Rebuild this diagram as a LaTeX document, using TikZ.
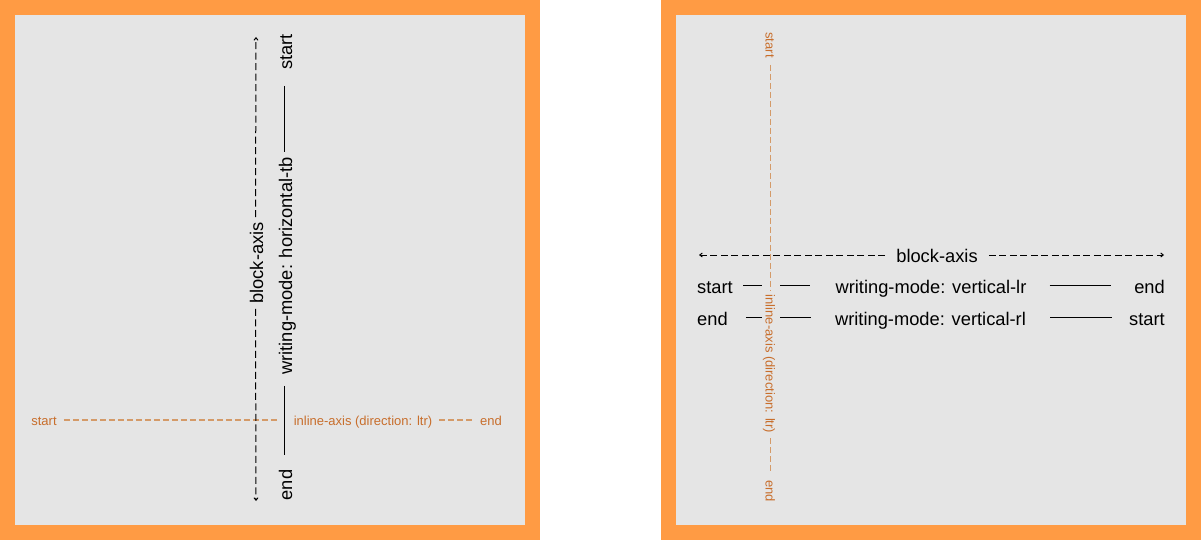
\documentclass[tikz,border=0pt]{standalone}
\usepackage{fontspec}
\setmainfont{Liberation Sans}
\usetikzlibrary{arrows.meta,positioning}
\definecolor{frameorange}{HTML}{FF9B44}
\definecolor{panelgray}{HTML}{E5E5E5}
\definecolor{axistext}{HTML}{C86E2C}
\definecolor{axisdash}{HTML}{D49A68}

\begin{document}
\begin{tikzpicture}[x=1pt,y=-1pt,
  lbl/.style={font=\fontsize{18.3}{18.3}\selectfont,inner sep=0pt,
    text height=15pt,text depth=0pt},
  olbl/.style={font=\fontsize{13}{13}\selectfont,text=axistext,inner sep=0pt,
    text height=10pt,text depth=0pt},
  blockdash/.style={black,line width=1pt,dash pattern=on 7pt off 3.5pt},
  inlinedash/.style={axisdash,line width=1.1pt,dash pattern=on 6pt off 3pt},
  rule/.style={black,line width=1.1pt},
  tip/.style={-{Straight Barb[length=2.5pt,width=4pt]}}]
  \useasboundingbox(0,0)rectangle(1201,540);
  % frames
  \fill[frameorange](0,0)rectangle(540,540);
  \fill[panelgray](15,15)rectangle(525,525);
  \fill[frameorange](661,0)rectangle(1201,540);
  \fill[panelgray](676,15)rectangle(1186,525);
  % left panel: horizontal-tb
  \node[olbl](istartL)at(44,420){start};
  \node[olbl](inlineL)at(363,420){inline-axis (direction: ltr)};
  \node[olbl](iendL)at(491,420){end};
  \draw[inlinedash,shorten <=7pt,shorten >=14pt](istartL.east)--(inlineL.west);
  \draw[inlinedash,shorten <=7pt,shorten >=7pt](inlineL.east)--(iendL.west);
  \node[lbl,rotate=90](blockL)at(255.5,263){block-axis};
  \coordinate(blockLtop)at(256,37);
  \coordinate(blockLbot)at(256,501);
  \draw[blockdash,tip,shorten <=5pt](blockL.east)--(blockLtop);
  \draw[blockdash,tip,shorten <=5pt](blockL.west)--(blockLbot);
  \node[lbl,rotate=90](startL)at(284.5,52){start};
  \node[lbl,rotate=90](modeL)at(284.5,266){writing-mode: horizontal-tb};
  \node[lbl,rotate=90](endL)at(284.5,485){end};
  \draw[rule,shorten <=16pt,shorten >=5pt](startL.west)--(modeL.east);
  \draw[rule,shorten <=11pt,shorten >=15pt](modeL.west)--(endL.east);
  % right panel: vertical-lr / vertical-rl
  \node[olbl,rotate=-90](istartR)at(770.5,45){start};
  \node[olbl,rotate=-90](inlineR)at(770.5,364){inline-axis (direction: ltr)};
  \node[olbl,rotate=-90](iendR)at(770.5,491){end};
  \draw[inlinedash,shorten <=7pt,shorten >=4pt](istartR.east)--(inlineR.west);
  \draw[inlinedash,shorten <=5pt,shorten >=7pt](inlineR.east)--(iendR.west);
  \node[lbl](blockR)at(937,255){block-axis};
  \coordinate(blockRleft)at(699,255);
  \coordinate(blockRright)at(1164,255);
  \draw[blockdash,tip,shorten <=11pt](blockR.west)--(blockRleft);
  \draw[blockdash,tip,shorten <=11pt](blockR.east)--(blockRright);
  \node[lbl,anchor=west](startLR)at(697,285.5){start};
  \node[lbl](modeLR)at(931,285.5){writing-mode: vertical-lr};
  \node[lbl,anchor=east](endLR)at(1165,285.5){end};
  \coordinate(gapLRa)at(762,285.5);
  \coordinate(gapLRb)at(780,285.5);
  \draw[rule,shorten <=10pt](startLR.east)--(gapLRa);
  \draw[rule,shorten >=25pt](gapLRb)--(modeLR.west);
  \draw[rule,shorten <=23pt,shorten >=23pt](modeLR.east)--(endLR.west);
  \node[lbl,anchor=west](endRL)at(697,317.5){end};
  \node[lbl](modeRL)at(930.5,317.5){writing-mode: vertical-rl};
  \node[lbl,anchor=east](startRL)at(1165,317.5){start};
  \coordinate(gapRLa)at(762,317.5);
  \coordinate(gapRLb)at(780,317.5);
  \draw[rule,shorten <=18pt](endRL.east)--(gapRLa);
  \draw[rule,shorten >=24pt](gapRLb)--(modeRL.west);
  \draw[rule,shorten <=24pt,shorten >=17pt](modeRL.east)--(startRL.west);
\end{tikzpicture}
\end{document}
